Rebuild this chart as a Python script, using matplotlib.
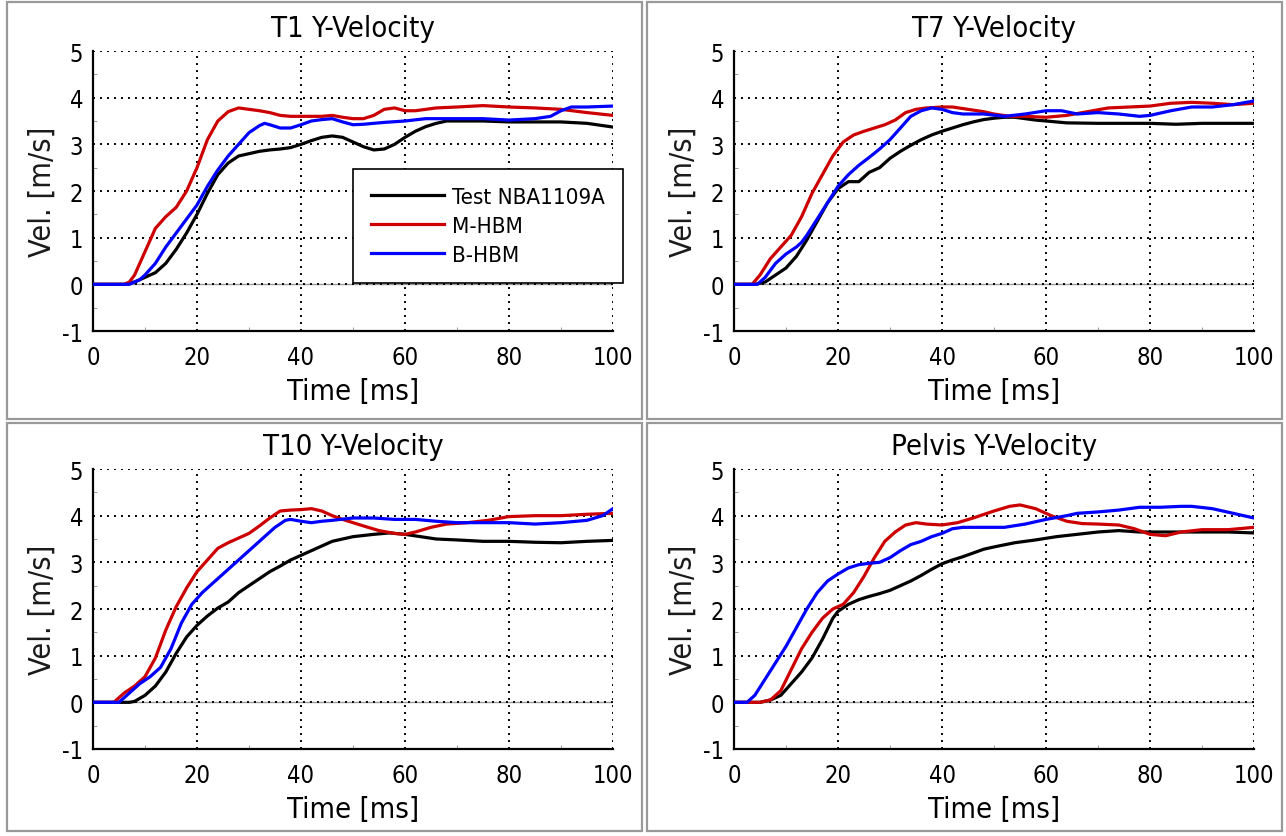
import matplotlib
matplotlib.use("Agg")
import matplotlib.pyplot as plt
from matplotlib.patches import Rectangle
from matplotlib.ticker import MultipleLocator

plt.rcParams['font.family'] = ['DejaVu Sans']
plt.rcParams['font.stretch'] = 'condensed'
plt.rcParams['axes.unicode_minus'] = False

titles = ["T1 Y-Velocity", "T7 Y-Velocity", "T10 Y-Velocity", "Pelvis Y-Velocity"]
labels = ["Test NBA1109A", "M-HBM", "B-HBM"]
colors = ["#000000", "#cc0000", "#0000ff"]
xticks = [0, 20, 40, 60, 80, 100]
yticks = [-1, 0, 1, 2, 3, 4, 5]

# T1
t1_test_t = [0, 6, 8, 10, 12, 14, 16, 18, 20, 22, 24, 26, 28, 30, 32, 34, 36, 38, 40, 42, 44, 46, 48, 50,
             52, 54, 56, 58, 60, 62, 64, 66, 68, 70, 75, 80, 85, 90, 95, 100]
t1_test_v = [0, 0, 0.05, 0.15, 0.25, 0.45, 0.75, 1.1, 1.5, 1.95, 2.35, 2.6, 2.75, 2.8, 2.85, 2.88, 2.9, 2.93,
             3.0, 3.08, 3.15, 3.18, 3.15, 3.05, 2.95, 2.88, 2.9, 3.0, 3.15, 3.28, 3.38, 3.45, 3.5, 3.5, 3.5,
             3.48, 3.48, 3.48, 3.45, 3.37]
t1_m_t = [0, 6, 7, 8, 10, 12, 14, 16, 18, 20, 22, 24, 26, 28, 30, 32, 34, 36, 38, 40, 42, 44, 46, 48, 50,
          52, 54, 56, 58, 60, 62, 64, 66, 70, 75, 80, 85, 90, 95, 100]
t1_m_v = [0, 0, 0.05, 0.2, 0.7, 1.2, 1.45, 1.65, 2.0, 2.5, 3.1, 3.5, 3.7, 3.78, 3.75, 3.72, 3.68, 3.62, 3.6,
          3.6, 3.6, 3.6, 3.62, 3.58, 3.55, 3.55, 3.62, 3.75, 3.78, 3.72, 3.72, 3.75, 3.78, 3.8, 3.83, 3.8,
          3.78, 3.75, 3.68, 3.62]
t1_b_t = [0, 7, 9, 10, 12, 14, 16, 18, 20, 22, 24, 26, 28, 30, 32, 33, 34, 36, 38, 40, 42, 44, 46, 48, 50,
          52, 56, 60, 64, 70, 75, 80, 85, 88, 90, 92, 95, 100]
t1_b_v = [0, 0, 0.1, 0.2, 0.45, 0.8, 1.1, 1.4, 1.7, 2.1, 2.45, 2.75, 3.0, 3.25, 3.4, 3.45, 3.42, 3.35, 3.35,
          3.42, 3.5, 3.53, 3.55, 3.48, 3.42, 3.43, 3.47, 3.5, 3.55, 3.55, 3.55, 3.52, 3.55, 3.6, 3.72, 3.8,
          3.8, 3.82]

# T7
t7_test_t = [0, 4, 6, 8, 10, 12, 14, 16, 18, 20, 22, 24, 26, 28, 30, 32, 34, 36, 38, 40, 42, 44, 46, 48,
             50, 52, 54, 56, 58, 60, 64, 70, 80, 85, 90, 95, 100]
t7_test_v = [0, 0, 0.05, 0.2, 0.35, 0.6, 0.95, 1.35, 1.75, 2.05, 2.2, 2.2, 2.4, 2.5, 2.7, 2.85, 2.98, 3.1,
             3.2, 3.28, 3.35, 3.42, 3.48, 3.53, 3.56, 3.58, 3.58, 3.55, 3.52, 3.5, 3.46, 3.45, 3.45, 3.43,
             3.45, 3.45, 3.45]
t7_m_t = [0, 3.5, 5, 7, 9, 11, 13, 15, 17, 19, 21, 23, 25, 27, 29, 31, 33, 35, 37, 40, 42, 45, 48, 50, 53,
          56, 60, 64, 68, 72, 76, 80, 84, 88, 92, 96, 100]
t7_m_v = [0, 0, 0.2, 0.55, 0.8, 1.05, 1.45, 1.95, 2.35, 2.75, 3.05, 3.2, 3.28, 3.35, 3.42, 3.52, 3.68, 3.75,
          3.78, 3.8, 3.8, 3.75, 3.7, 3.65, 3.6, 3.6, 3.58, 3.62, 3.7, 3.78, 3.8, 3.82, 3.88, 3.9, 3.88,
          3.85, 3.88]
t7_b_t = [0, 4.5, 6, 8, 10, 12, 13, 14, 16, 18, 20, 22, 24, 26, 28, 30, 32, 34, 36, 38, 40, 42, 44, 48, 52,
          56, 60, 63, 66, 70, 74, 78, 80, 84, 88, 92, 96, 100]
t7_b_v = [0, 0, 0.15, 0.45, 0.65, 0.8, 0.9, 1.05, 1.4, 1.75, 2.1, 2.35, 2.55, 2.72, 2.9, 3.1, 3.35, 3.6,
          3.72, 3.78, 3.75, 3.68, 3.65, 3.65, 3.6, 3.65, 3.72, 3.72, 3.65, 3.68, 3.65, 3.6, 3.62, 3.72, 3.8,
          3.8, 3.85, 3.93]

# T10
t10_test_t = [0, 7, 8, 10, 12, 14, 16, 18, 20, 22, 24, 26, 28, 30, 32, 34, 36, 38, 40, 42, 44, 46, 48, 50,
              54, 57, 60, 63, 66, 70, 75, 80, 85, 90, 95, 100]
t10_test_v = [0, 0, 0.02, 0.15, 0.35, 0.65, 1.05, 1.4, 1.65, 1.85, 2.02, 2.15, 2.35, 2.5, 2.65, 2.8, 2.92,
              3.05, 3.15, 3.25, 3.35, 3.45, 3.5, 3.55, 3.6, 3.63, 3.6, 3.55, 3.5, 3.48, 3.45, 3.45, 3.43,
              3.42, 3.45, 3.47]
t10_m_t = [0, 4, 6, 8, 10, 12, 14, 16, 18, 20, 22, 24, 26, 28, 30, 32, 34, 36, 38, 40, 42, 44, 46, 48, 50,
           52, 55, 58, 60, 62, 65, 68, 72, 76, 80, 85, 90, 95, 100]
t10_m_v = [0, 0, 0.2, 0.35, 0.55, 0.95, 1.55, 2.05, 2.45, 2.8, 3.05, 3.3, 3.42, 3.52, 3.62, 3.78, 3.95, 4.1,
           4.12, 4.13, 4.15, 4.1, 4.0, 3.92, 3.85, 3.78, 3.68, 3.62, 3.6, 3.65, 3.75, 3.82, 3.85, 3.9, 3.98,
           4.0, 4.0, 4.03, 4.05]
t10_b_t = [0, 5, 7, 9, 11, 13, 15, 17, 19, 21, 23, 25, 27, 29, 31, 33, 35, 37, 38, 40, 42, 44, 46, 50, 54,
           58, 62, 66, 70, 75, 80, 85, 90, 95, 98, 100]
t10_b_v = [0, 0, 0.2, 0.4, 0.55, 0.75, 1.15, 1.7, 2.1, 2.35, 2.55, 2.75, 2.95, 3.15, 3.35, 3.55, 3.75, 3.9,
           3.92, 3.88, 3.85, 3.88, 3.9, 3.95, 3.95, 3.92, 3.92, 3.88, 3.85, 3.85, 3.85, 3.82, 3.85, 3.9, 4.0,
           4.15]

# Pelvis
pel_test_t = [0, 5, 7, 9, 11, 13, 15, 17, 19, 20, 22, 24, 26, 28, 30, 32, 34, 36, 38, 40, 42, 44, 46, 48,
              50, 54, 58, 62, 66, 70, 74, 78, 82, 86, 90, 95, 100]
pel_test_v = [0, 0, 0.05, 0.15, 0.4, 0.65, 0.95, 1.35, 1.8, 1.95, 2.1, 2.2, 2.27, 2.33, 2.4, 2.5, 2.6, 2.72,
              2.85, 2.97, 3.05, 3.12, 3.2, 3.28, 3.33, 3.42, 3.48, 3.55, 3.6, 3.65, 3.68, 3.65, 3.65, 3.65,
              3.65, 3.65, 3.63]
pel_m_t = [0, 5, 7, 9, 11, 13, 15, 17, 19, 21, 23, 25, 27, 29, 31, 33, 35, 37, 40, 43, 46, 50, 53, 55, 58,
           61, 64, 67, 70, 74, 77, 80, 83, 86, 90, 95, 100]
pel_m_v = [0, 0, 0.05, 0.25, 0.7, 1.15, 1.5, 1.8, 2.0, 2.1, 2.35, 2.7, 3.1, 3.45, 3.65, 3.8, 3.85, 3.82, 3.8,
           3.85, 3.95, 4.1, 4.2, 4.23, 4.15, 4.0, 3.88, 3.83, 3.82, 3.8, 3.72, 3.6, 3.57, 3.65, 3.7, 3.7,
           3.75]
pel_b_t = [0, 2.5, 4, 6, 8, 10, 12, 14, 16, 18, 20, 22, 24, 26, 28, 30, 32, 34, 36, 38, 40, 42, 44, 48, 52,
           56, 60, 64, 66, 70, 74, 78, 82, 86, 88, 92, 96, 100]
pel_b_v = [0, 0, 0.15, 0.5, 0.85, 1.2, 1.6, 2.0, 2.35, 2.6, 2.75, 2.88, 2.95, 2.98, 3.0, 3.1, 3.25, 3.38,
           3.45, 3.55, 3.62, 3.72, 3.75, 3.75, 3.75, 3.82, 3.92, 4.0, 4.05, 4.08, 4.12, 4.18, 4.18, 4.2,
           4.2, 4.15, 4.05, 3.95]

panels = [
    [(t1_test_t, t1_test_v), (t1_m_t, t1_m_v), (t1_b_t, t1_b_v)],
    [(t7_test_t, t7_test_v), (t7_m_t, t7_m_v), (t7_b_t, t7_b_v)],
    [(t10_test_t, t10_test_v), (t10_m_t, t10_m_v), (t10_b_t, t10_b_v)],
    [(pel_test_t, pel_test_v), (pel_m_t, pel_m_v), (pel_b_t, pel_b_v)],
]

W, H = 1286, 837
fig = plt.figure(figsize=(W / 100, H / 100), dpi=100)

# panel frames (pixel boxes: x0, y0, x1, y1 from the top left)
frames = [(7, 3, 642, 420), (647, 3, 1282, 420), (7, 424, 642, 832), (647, 424, 1282, 832)]
for x0, y0, x1, y1 in frames:
    fig.patches.append(Rectangle((x0 / W, 1 - y1 / H), (x1 - x0) / W, (y1 - y0) / H,
                                 transform=fig.transFigure, fill=False, edgecolor="#999999", lw=1.6))

# axes boxes in pixels: left, right, top, bottom
boxes = [(93, 613, 52, 332), (734, 1254, 52, 332), (93, 613, 470, 750), (734, 1254, 470, 750)]

for i, (l, r, t, b) in enumerate(boxes):
    ax = fig.add_axes([l / W, 1 - b / H, (r - l) / W, (b - t) / H])
    ax.axhline(0, color="#999999", lw=1.0, zorder=1)
    for (tx, vy), lab, c in zip(panels[i], labels, colors):
        ax.plot(tx, vy, color=c, lw=2.3, label=lab, zorder=3)
    ax.set_xlim(0, 100)
    ax.set_ylim(-1, 5)
    ax.set_xticks(xticks)
    ax.set_yticks(yticks)
    ax.xaxis.set_minor_locator(MultipleLocator(10))
    ax.yaxis.set_minor_locator(MultipleLocator(0.5))
    ax.tick_params(which="major", length=0, labelsize=17)
    ax.tick_params(axis="x", which="major", pad=10)
    ax.tick_params(axis="y", which="major", pad=7)
    ax.tick_params(which="minor", direction="in", length=3, color="#888888")
    ax.grid(True, which="major", color="black", lw=1.4, linestyle=(0, (1, 2.6)))
    ax.spines["top"].set_visible(False)
    ax.spines["right"].set_visible(False)
    ax.spines["left"].set_linewidth(1.6)
    ax.spines["bottom"].set_linewidth(1.6)
    ax.set_title(titles[i], fontsize=21, pad=11)
    ax.set_xlabel("Time [ms]", fontsize=21, labelpad=6)
    ax.set_ylabel("Vel. [m/s]", fontsize=22, labelpad=4, color="#1a1a1a")
    if i == 0:
        leg = ax.legend(loc="center", bbox_to_anchor=(0.759, 0.375), fontsize=16, frameon=True,
                        fancybox=False, framealpha=1, edgecolor="black", handlelength=3.3,
                        labelspacing=0.4, borderpad=0.8, handletextpad=0.36)
        leg.get_frame().set_linewidth(1.2)
        leg.set_zorder(5)

plt.savefig("out.png", dpi=100)
